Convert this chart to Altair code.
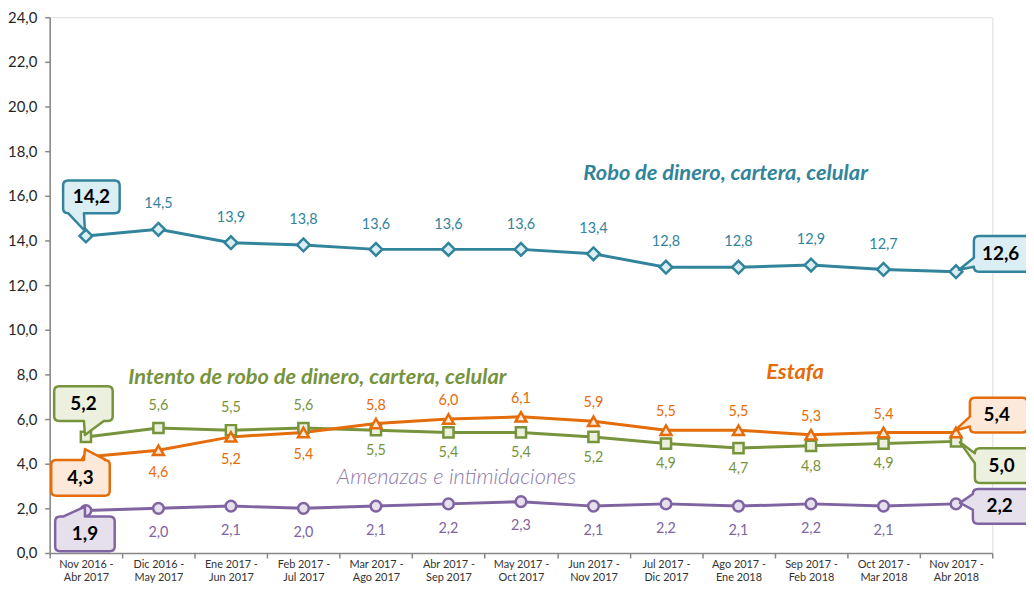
import altair as alt
import pandas as pd

# ---------------- data ----------------
periods = [
    "Nov 2016 - Abr 2017", "Dic 2016 - May 2017", "Ene 2017 - Jun 2017",
    "Feb 2017 - Jul 2017", "Mar 2017 - Ago 2017", "Abr 2017 - Sep 2017",
    "May 2017 - Oct 2017", "Jun 2017 - Nov 2017", "Jul 2017 - Dic 2017",
    "Ago 2017 - Ene 2018", "Sep 2017 - Feb 2018", "Oct 2017 - Mar 2018",
    "Nov 2017 - Abr 2018",
]
robo = [14.2, 14.5, 13.9, 13.8, 13.6, 13.6, 13.6, 13.4, 12.8, 12.8, 12.9, 12.7, 12.6]
intento = [5.2, 5.6, 5.5, 5.6, 5.5, 5.4, 5.4, 5.2, 4.9, 4.7, 4.8, 4.9, 5.0]
estafa = [4.3, 4.6, 5.2, 5.4, 5.8, 6.0, 6.1, 5.9, 5.5, 5.5, 5.3, 5.4, 5.4]
amenazas = [1.9, 2.0, 2.1, 2.0, 2.1, 2.2, 2.3, 2.1, 2.2, 2.1, 2.2, 2.1, 2.2]
series_names = [
    "Robo de dinero, cartera, celular",
    "Intento de robo de dinero, cartera, celular",
    "Estafa",
    "Amenazas e intimidaciones",
]
y_ticks = [0, 2, 4, 6, 8, 10, 12, 14, 16, 18, 20, 22, 24]

series_values = {"robo": robo, "intento": intento, "estafa": estafa, "amenazas": amenazas}
series_title = dict(zip(["robo", "intento", "estafa", "amenazas"], series_names))

# ---------------- styles ----------------
FONT = "Lato"
W, H = 950, 540
style = {
    "robo": dict(color="#31849B", fill="#DAEEF3", shape="diamond", size=165, above=-25, below=22),
    "intento": dict(color="#77933C", fill="#EBF1DE", shape="square", size=105, above=-22, below=21),
    "estafa": dict(color="#E46C0A", fill="#FDE9D9", shape="triangle-up", size=120, above=-18, below=23),
    "amenazas": dict(color="#8064A2", fill="#E5E0EC", shape="circle", size=115, above=-22, below=25),
}
# series title anchors: (period index, y value, dx, fontWeight, color, size)
title_style = {
    "robo": (9, 17.0, -13, "bold", "#31849B", 22),
    "intento": (3, 7.9, 14, "bold", "#77933C", 22),
    "estafa": (10, 8.1, -16, "bold", "#E46C0A", 22),
    "amenazas": (5, 3.4, 8, 300, "#8D7BAE", 22),
}
# callout boxes relative to the point (px): box x0,y0,x1,y1, pointer side, base a,b, tip
callouts = [
    ("robo", 0, (-23, -56, 34, -23), "bottom", (-18, -2), (-1, -5)),
    ("robo", 12, (18, -36, 76, 0), "left", (-14, -5), (3, -2)),
    ("intento", 0, (-32, -51, 27, -16), "bottom", (-2, 18), (-1, -2)),
    ("intento", 12, (19, 7, 77, 42), "left", (12, 22), (4, 1)),
    ("estafa", 0, (-35, 3, 24, 39), "top", (-2, 20), (-1, -8)),
    ("estafa", 12, (14, -35, 72, 0), "left", (-16, -6), (-1, -2)),
    ("amenazas", 0, (-31, 6, 29, 41), "top", (-23, -1), (-1, -4)),
    ("amenazas", 12, (17, -15, 75, 20), "left", (-10, 6), (4, -1)),
]


def fmt(v):
    return f"{v:.1f}".replace(".", ",")


def box_path(box, side, base, tip, r=5):
    x0, y0, x1, y1 = box
    a, b = base
    tx, ty = tip
    p = [f"M{x0 + r},{y0}"]
    if side == "top":
        p += [f"L{a},{y0}", f"L{tx},{ty}", f"L{b},{y0}"]
    p += [f"L{x1 - r},{y0}", f"Q{x1},{y0} {x1},{y0 + r}"]
    p += [f"L{x1},{y1 - r}", f"Q{x1},{y1} {x1 - r},{y1}"]
    if side == "bottom":
        p += [f"L{b},{y1}", f"L{tx},{ty}", f"L{a},{y1}"]
    p += [f"L{x0 + r},{y1}", f"Q{x0},{y1} {x0},{y1 - r}"]
    if side == "left":
        p += [f"L{x0},{b}", f"L{tx},{ty}", f"L{x0},{a}"]
    p += [f"L{x0},{y0 + r}", f"Q{x0},{y0} {x0 + r},{y0}", "Z"]
    return " ".join(p)


rows = []
for key, vals in series_values.items():
    for i, (p, v) in enumerate(zip(periods, vals)):
        if key in ("intento", "estafa"):
            other = estafa[i] if key == "intento" else intento[i]
            side = "above" if v > other else "below"
        elif key == "robo":
            side = "above"
        else:
            side = "below"
        rows.append(dict(series=key, period=p, idx=i, value=v, label=fmt(v), side=side))
df = pd.DataFrame(rows)

# ---------------- encodings ----------------
x_enc = alt.X(
    "period:N",
    sort=periods,
    scale=alt.Scale(type="band", domain=periods, paddingInner=0, paddingOuter=0),
    axis=alt.Axis(
        title=None, labelAngle=0, tickBand="extent",
        labelExpr="datum.label ? [split(datum.label, ' - ')[0] + ' -', split(datum.label, ' - ')[1]] : ''",
        labelFont=FONT, labelFontSize=11, labelColor="#333333", labelPadding=1,
        labelBaseline="top", labelLineHeight=13,
        tickSize=5, tickColor="#868686", tickWidth=1.5,
        domainColor="#868686", domainWidth=1.5, grid=False,
    ),
)
y_enc = alt.Y(
    "value:Q",
    scale=alt.Scale(domain=[0, 24], nice=False),
    axis=alt.Axis(
        title=None, values=y_ticks, grid=False,
        labelExpr="replace(format(datum.value, '.1f'), '.', ',')",
        labelFont=FONT, labelFontSize=15, labelColor="#262626", labelPadding=8,
        tickSize=5, tickColor="#868686", tickWidth=1.5,
        domainColor="#868686", domainWidth=1.5,
    ),
)

layers = []
order = ["robo", "intento", "estafa", "amenazas"]
for key in order:
    s = style[key]
    d = df[df.series == key]
    layers.append(alt.Chart(d).mark_line(color=s["color"], strokeWidth=3).encode(x=x_enc, y=y_enc))
for key in order:
    s = style[key]
    d = df[df.series == key]
    layers.append(
        alt.Chart(d).mark_point(
            shape=s["shape"], size=s["size"], filled=True, fill=s["fill"],
            stroke=s["color"], strokeWidth=2.5, opacity=1,
        ).encode(x=x_enc, y=y_enc)
    )

# value labels (not first / last, which get callouts)
for key in order:
    s = style[key]
    inner = df[(df.series == key) & (df.idx > 0) & (df.idx < len(periods) - 1)]
    for side in ("above", "below"):
        d = inner[inner.side == side]
        if d.empty:
            continue
        layers.append(
            alt.Chart(d).mark_text(
                dy=s[side], color=s["color"], fontSize=14.5, font=FONT,
                align="center", baseline="middle",
            ).encode(x=x_enc, y=y_enc, text="label:N")
        )

# callouts
for key, i, box, side, base, tip in callouts:
    s = style[key]
    d = df[(df.series == key) & (df.idx == i)]
    layers.append(
        alt.Chart(d).mark_point(
            shape=box_path(box, side, base, tip), size=4, filled=True,
            fill=s["fill"], stroke=s["color"], strokeWidth=2.5, opacity=1,
            strokeJoin="round",
        ).encode(x=x_enc, y=y_enc)
    )
    layers.append(
        alt.Chart(d).mark_text(
            dx=(box[0] + box[2]) / 2 - (2 if i == 12 else 0), dy=(box[1] + box[3]) / 2,
            fontSize=19, fontWeight="bold", font=FONT, color="#000000",
            align="center", baseline="middle",
        ).encode(x=x_enc, y=y_enc, text="label:N")
    )

# series titles
for key in order:
    i, yv, dx, fw, col, fs = title_style[key]
    d = pd.DataFrame([dict(period=periods[i], value=yv, name=series_title[key])])
    layers.append(
        alt.Chart(d).mark_text(
            dx=dx, fontSize=fs, fontWeight=fw, fontStyle="italic", font=FONT,
            color=col, align="center", baseline="middle",
        ).encode(x=x_enc, y=y_enc, text="name:N")
    )

chart = (
    alt.layer(*layers)
    .properties(
        width=W, height=H,
        autosize=alt.AutoSizeParams(type="none"),
        padding={"left": 42, "top": 7, "right": 34, "bottom": 32},
    )
    .configure_view(stroke=None)
    .configure(background="white")
)

chart.save("out.html", embed_options={"renderer": "svg", "actions": False})
